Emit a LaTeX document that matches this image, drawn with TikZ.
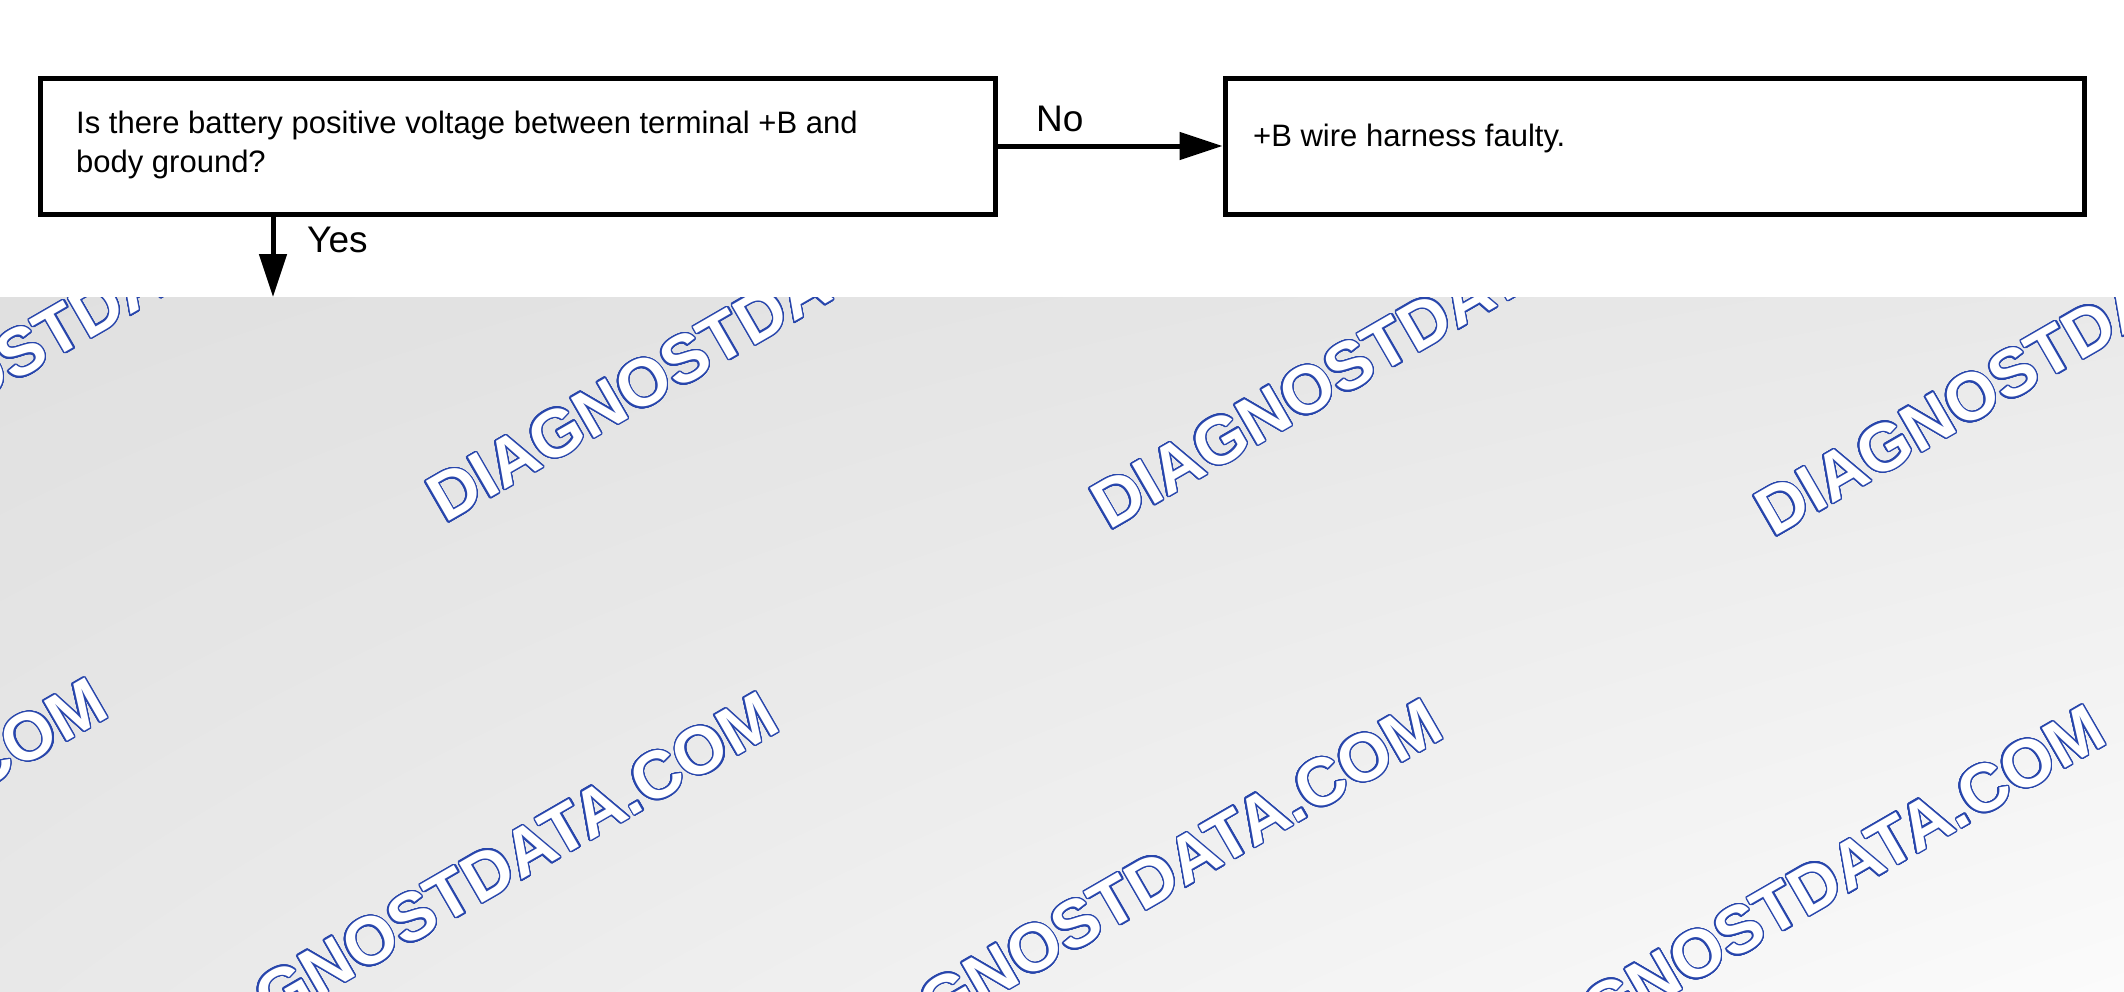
\documentclass[tikz,border=0pt]{standalone}
\usepackage{fontspec}
\setmainfont{Liberation Sans}
\usepackage{contour}
\contourlength{1.3pt}
\contournumber{32}
\usetikzlibrary{arrows.meta,shadings}
\definecolor{wmblue}{RGB}{40,70,172}
\definecolor{gUL}{HTML}{E0E0E0}
\definecolor{gUR}{HTML}{E9E9E9}
\definecolor{gLL}{HTML}{E8E8E8}
\definecolor{gLR}{HTML}{FBFBFB}
\begin{document}
\begin{tikzpicture}[x=1pt,y=-1pt,
  box/.style={draw=black, line width=5pt, inner sep=0pt, minimum height=136pt},
  boxtext/.style={anchor=base west, inner sep=0pt, font=\fontsize{31}{39}\selectfont},
  lbl/.style={anchor=base west, inner sep=0pt, font=\fontsize{37}{44}\selectfont},
  conn/.style={line width=5pt, -{Triangle[length=43pt,width=27pt]}},
  wm/.style={anchor=base west, inner sep=0pt, rotate=30, font=\fontsize{67}{80}\selectfont\bfseries}]
\useasboundingbox (0,0) rectangle (2124,991);
% background
\fill[white] (0,0) rectangle (2124,991);
\shade[upper left=gUL, upper right=gUR, lower left=gLL, lower right=gLR] (0,297) rectangle (2124,991);
% watermark
\begin{scope}
\clip (0,297) rectangle (2124,991);
\foreach \i/\x/\y in {0/-219/517, 1/445/524, 2/1109/531, 3/1773/538,
                      4/-499/1068, 5/172/1082, 6/836/1089, 7/1499/1095}
  \node[wm] (wm\i) at (\x,\y) {\contour{wmblue}{\textcolor{white}{DIAGNOSTDATA.COM}}};
\end{scope}
% boxes
\node[box, minimum width=955pt] (q1) at (517.5,146) {};
\node[box, minimum width=859pt] (r1) at (1654.5,146) {};
\node[boxtext] (q1a) at (76,133) {Is there battery positive voltage between terminal +B and};
\node[boxtext] (q1b) at (76,172) {body ground?};
\node[boxtext] (r1a) at (1253,146) {+B wire harness faulty.};
% connectors
\coordinate (yesend) at (273,297);
\draw[conn] (q1.east) -- (r1.west);
\draw[conn] (q1.south -| yesend) -- (yesend);
\node[lbl] (no) at (1036,131) {No};
\node[lbl] (yes) at (307,252) {Yes};
\end{tikzpicture}
\end{document}
